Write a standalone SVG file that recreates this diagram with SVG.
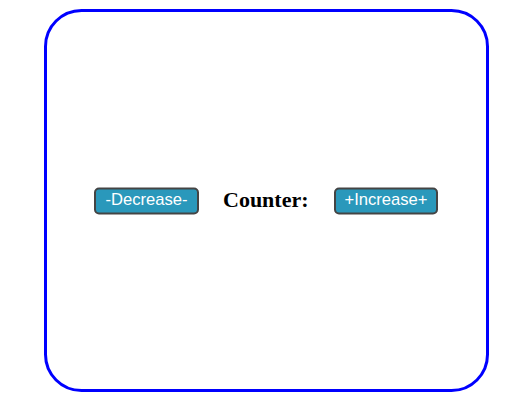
<svg xmlns="http://www.w3.org/2000/svg" width="523" height="412" viewBox="0 0 523 412">
<style>
.btn rect{fill:#2a98bb;stroke:#444;stroke-width:2}
.btn text{fill:#fff;font-family:"Liberation Sans",Arial,sans-serif;font-size:16.6px;text-anchor:middle}
.lbl{font-family:"Liberation Serif","Times New Roman",serif;font-size:22px;font-weight:bold;fill:#000}
</style>
<rect width="523" height="412" fill="#fff"/>
<g id="frame"><rect x="45.5" y="10.5" width="442" height="380" rx="36" ry="36" fill="none" stroke="#0000ff" stroke-width="3"/></g>
<g id="decrease" class="btn"><rect x="95" y="188.5" width="103" height="25" rx="4"/><text x="146.5" y="205">-Decrease-</text></g>
<g id="counter"><text class="lbl" x="223" y="207">Counter:</text></g>
<g id="increase" class="btn"><rect x="335" y="188.5" width="102" height="25" rx="4"/><text x="386" y="205">+Increase+</text></g>
<g id="connectors"></g>
</svg>
